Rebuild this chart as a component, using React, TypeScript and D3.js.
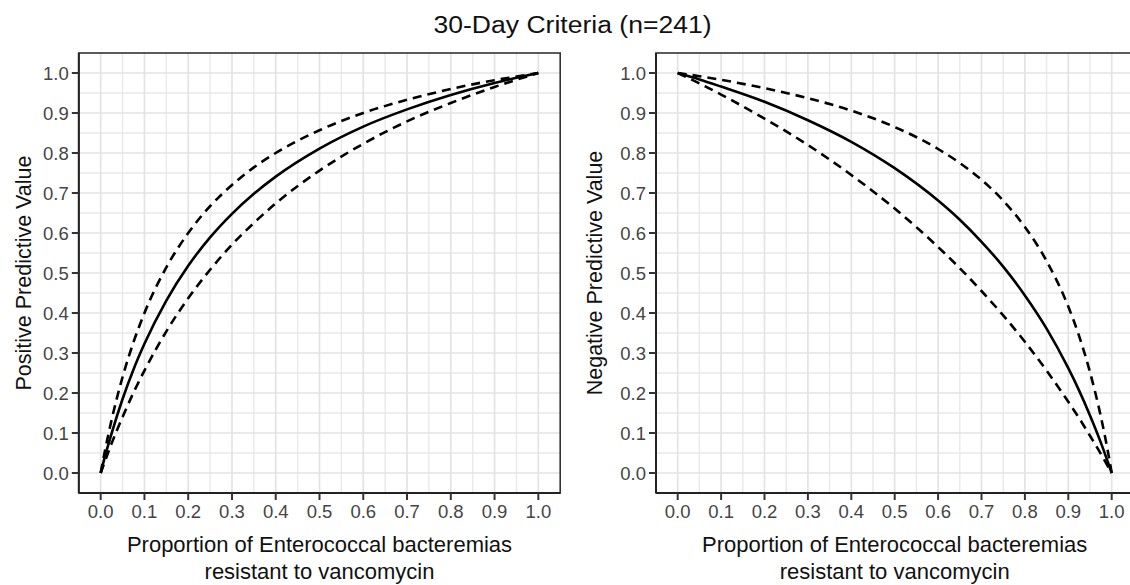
import React from 'react';
import * as d3 from 'd3';

// Proportion resistant (x) and read-off predictive values
const ppvX = [0, 0.01, 0.025, 0.05, 0.075, 0.1, 0.15, 0.2, 0.25, 0.3, 0.35, 0.4, 0.5, 0.6, 0.7, 0.8, 0.9, 0.95, 1.0];
const ppvMid = [0, 0.042, 0.099, 0.185, 0.259, 0.323, 0.431, 0.518, 0.589, 0.648, 0.698, 0.741, 0.811, 0.866, 0.909, 0.945, 0.975, 0.988, 1];
const ppvHigh = [0, 0.057, 0.133, 0.24, 0.327, 0.4, 0.514, 0.6, 0.667, 0.72, 0.764, 0.8, 0.857, 0.9, 0.933, 0.96, 0.982, 0.991, 1];
const ppvLow = [0, 0.03, 0.074, 0.14, 0.201, 0.256, 0.354, 0.437, 0.508, 0.571, 0.625, 0.674, 0.756, 0.823, 0.879, 0.925, 0.965, 0.983, 1];

const npvX = [0, 0.05, 0.1, 0.2, 0.3, 0.4, 0.5, 0.6, 0.65, 0.7, 0.75, 0.8, 0.85, 0.9, 0.925, 0.95, 0.975, 0.99, 1];
const npvMid = [1, 0.984, 0.966, 0.928, 0.882, 0.828, 0.762, 0.681, 0.633, 0.578, 0.516, 0.444, 0.361, 0.262, 0.206, 0.144, 0.076, 0.031, 0];
const npvHigh = [1, 0.992, 0.983, 0.962, 0.937, 0.906, 0.865, 0.81, 0.775, 0.733, 0.681, 0.615, 0.53, 0.416, 0.342, 0.252, 0.141, 0.061, 0];
const npvLow = [1, 0.974, 0.946, 0.886, 0.82, 0.745, 0.661, 0.565, 0.512, 0.455, 0.394, 0.328, 0.256, 0.178, 0.137, 0.093, 0.048, 0.019, 0];

const ticks = [0, 0.1, 0.2, 0.3, 0.4, 0.5, 0.6, 0.7, 0.8, 0.9, 1.0];
const minorTicks = [0.05, 0.15, 0.25, 0.35, 0.45, 0.55, 0.65, 0.75, 0.85, 0.95];

const W = 1130;
const H = 585;
const FONT = '"Liberation Sans", Arial, Helvetica, sans-serif';

type PanelProps = {
  left: number;
  right: number;
  xs: number[];
  mid: number[];
  high: number[];
  low: number[];
  yTitle: string;
  yTitleX: number;
};

const Panel = ({ left, right, xs, mid, high, low, yTitle, yTitleX }: PanelProps) => {
  const top = 53;
  const bottom = 493;
  const x = d3.scaleLinear().domain([-0.05, 1.05]).range([left, right]);
  const y = d3.scaleLinear().domain([-0.05, 1.05]).range([bottom, top]);

  const line = (vals: number[]) =>
    d3.line<number>()
      .x((_, i) => x(xs[i]))
      .y(d => y(d))
      .curve(d3.curveMonotoneX)(vals) || '';

  const cx = (left + right) / 2;
  const cy = (top + bottom) / 2;
  const f = d3.format('.1f');

  return (
    <g>
      <rect x={left} y={top} width={right - left} height={bottom - top} fill="#fff" />
      {minorTicks.map(t => (
        <g key={'m' + t}>
          <line x1={x(t)} x2={x(t)} y1={top} y2={bottom} stroke="#e9e9e9" strokeWidth={1.4} />
          <line x1={left} x2={right} y1={y(t)} y2={y(t)} stroke="#e9e9e9" strokeWidth={1.4} />
        </g>
      ))}
      {ticks.map(t => (
        <g key={'g' + t}>
          <line x1={x(t)} x2={x(t)} y1={top} y2={bottom} stroke="#e3e3e3" strokeWidth={1.7} />
          <line x1={left} x2={right} y1={y(t)} y2={y(t)} stroke="#e3e3e3" strokeWidth={1.7} />
        </g>
      ))}
      <path d={line(high)} fill="none" stroke="#000" strokeWidth={2.6} strokeDasharray="9 6" />
      <path d={line(low)} fill="none" stroke="#000" strokeWidth={2.6} strokeDasharray="9 6" />
      <path d={line(mid)} fill="none" stroke="#000" strokeWidth={2.6} />
      <rect x={left} y={top} width={right - left} height={bottom - top} fill="none" stroke="#333" strokeWidth={1.6} />
      <line x1={left} x2={left} y1={top} y2={bottom} stroke="#222" strokeWidth={2} />
      <line x1={left} x2={right} y1={bottom} y2={bottom} stroke="#222" strokeWidth={2} />
      {ticks.map(t => (
        <g key={'t' + t}>
          <line x1={left - 7} x2={left} y1={y(t)} y2={y(t)} stroke="#333" strokeWidth={2} />
          <text x={left - 10} y={y(t)} dy="0.36em" textAnchor="end" fontSize={18.5} fill="#454545" fontFamily={FONT}>
            {f(t)}
          </text>
          <line x1={x(t)} x2={x(t)} y1={bottom} y2={bottom + 7} stroke="#333" strokeWidth={2} />
          <text x={x(t)} y={518} textAnchor="middle" fontSize={18.5} fill="#454545" fontFamily={FONT}>
            {f(t)}
          </text>
        </g>
      ))}
      <text x={cx} y={552} textAnchor="middle" fontSize={22} fill="#111" fontFamily={FONT}>
        Proportion of Enterococcal bacteremias
      </text>
      <text x={cx} y={579} textAnchor="middle" fontSize={22} fill="#111" fontFamily={FONT}>
        resistant to vancomycin
      </text>
      <text transform={`translate(${yTitleX},${cy}) rotate(-90)`} textAnchor="middle" fontSize={21.5} fill="#111" fontFamily={FONT}>
        {yTitle}
      </text>
    </g>
  );
};

export default function App() {
  return (
    <svg width={W} height={H} style={{ position: 'absolute', left: 0, top: 0, background: '#fff' }}>
      <rect width={W} height={H} fill="#fff" />
      <text x={572.5} y={32.5} textAnchor="middle" fontSize={23} fill="#111" fontFamily={FONT}
        textLength={278} lengthAdjust="spacingAndGlyphs">
        30-Day Criteria (n=241)
      </text>
      <Panel left={78.8} right={560.2} xs={ppvX} mid={ppvMid} high={ppvHigh} low={ppvLow}
        yTitle="Positive Predictive Value" yTitleX={31} />
      <Panel left={656} right={1133.4} xs={npvX} mid={npvMid} high={npvHigh} low={npvLow}
        yTitle="Negative Predictive Value" yTitleX={602} />
    </svg>
  );
}
